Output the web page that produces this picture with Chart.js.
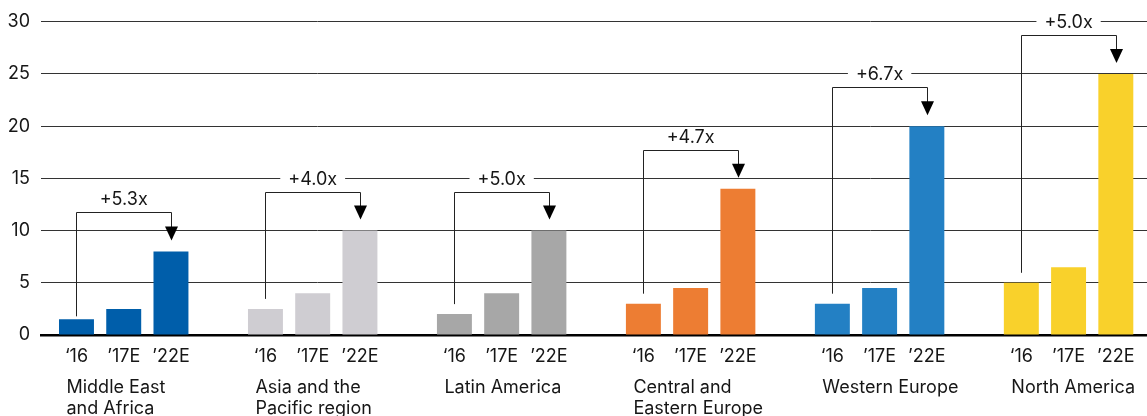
<!DOCTYPE html>
<html>
<head>
<meta charset="utf-8">
<script src="https://cdn.jsdelivr.net/npm/chart.js@4/dist/chart.umd.min.js"></script>
<style>
  html, body { margin: 0; padding: 0; background: #fff; overflow: hidden; }
  #wrap { width: 1147px; height: 416px; position: relative; }
</style>
</head>
<body>
<div id="wrap"><canvas id="c"></canvas></div>
<script>
// Region names (one entry per line of the label)
const regions = [
  ['Middle East', 'and Africa'],
  ['Asia and the', 'Pacific region'],
  ['Latin America'],
  ['Central and', 'Eastern Europe'],
  ['Western Europe'],
  ['North America']
];
// Year labels under each bar
const years = ['\u201816', '\u201917E', '\u201922E'];

// Values per region: '16, '17E, '22E
const middleEastAfrica     = [1.5, 2.5, 8];
const asiaPacific          = [2.5, 4, 10];
const latinAmerica         = [2, 4, 10];
const centralEasternEurope = [3, 4.5, 14];
const westernEurope        = [3, 4.5, 20];
const northAmerica         = [5, 6.5, 25];

// Growth multiple from '16 to '22E
const growth = ['+5.3x', '+4.0x', '+5.0x', '+4.7x', '+6.7x', '+5.0x'];

// Y-axis tick range
const yMin = 0, yMax = 30, yStep = 5;

// ---- styling ----
const regionColors = ['#005EAA', '#CFCDD2', '#A7A7A7', '#ED7D33', '#2380C4', '#F9D12B'];
const FONT = 'Inter, "Liberation Sans", Arial, sans-serif';
const TEXT = '#161616';
const SLOT = 4;                      // 3 bars + 1 empty slot per region
const bracketGap = [3, 10, 10, 10, 10, 10];

const series = [middleEastAfrica, asiaPacific, latinAmerica, centralEasternEurope, westernEurope, northAmerica];
const points = [], colors = [];
series.forEach((vals, g) => vals.forEach((v, j) => {
  points.push({ x: g * SLOT + j, y: v });
  colors.push(regionColors[g]);
}));

const annotate = {
  id: 'annotate',
  afterDatasetsDraw(chart) {
    const { ctx, scales: { x, y } } = chart;
    ctx.save();
    series.forEach((vals, g) => {
      const x0 = x.getPixelForValue(g * SLOT);
      const x2 = x.getPixelForValue(g * SLOT + 2);
      const top22 = y.getPixelForValue(vals[2]);
      const level = Math.round(top22 - 39) + 0.5;
      const bottom = y.getPixelForValue(vals[0]) - bracketGap[g];
      const tip = top22 - 11;
      const xa = Math.round(x0) + 0.5, xb = Math.round(x2) + 0.5;
      ctx.strokeStyle = '#222';
      ctx.lineWidth = 1;
      ctx.beginPath();
      ctx.moveTo(xa, bottom);
      ctx.lineTo(xa, level);
      ctx.lineTo(xb, level);
      ctx.lineTo(xb, tip - 12);
      ctx.stroke();
      ctx.fillStyle = '#000';
      ctx.beginPath();
      ctx.moveTo(xb - 6.5, tip - 14);
      ctx.lineTo(xb + 6.5, tip - 14);
      ctx.lineTo(xb, tip);
      ctx.closePath();
      ctx.fill();

      ctx.font = '18px ' + FONT;
      const w = ctx.measureText(growth[g]).width;
      const cx = (x0 + x2) / 2, cy = level - 12.5;
      ctx.fillStyle = '#fff';
      ctx.fillRect(cx - w / 2 - 8, cy - 10, w + 16, 20);
      ctx.fillStyle = TEXT;
      ctx.textAlign = 'center';
      ctx.textBaseline = 'middle';
      ctx.fillText(growth[g], cx, cy);
    });
    ctx.restore();
  },
  afterDraw(chart) {
    const { ctx, chartArea, scales: { x } } = chart;
    ctx.save();
    ctx.font = '18px ' + FONT;
    ctx.fillStyle = TEXT;
    ctx.textAlign = 'left';
    ctx.textBaseline = 'alphabetic';
    regions.forEach((lines, g) => {
      const lx = x.getPixelForValue(g * SLOT) - 10;
      lines.forEach((t, k) => ctx.fillText(t, lx, chartArea.bottom + 58 + k * 21));
    });
    ctx.restore();
  }
};

new Chart(document.getElementById('c'), {
  type: 'bar',
  data: {
    datasets: [{
      data: points,
      backgroundColor: colors,
      borderWidth: 0,
      barPercentage: 0.74,
      categoryPercentage: 1
    }]
  },
  options: {
    responsive: true,
    maintainAspectRatio: false,
    animation: false,
    events: [],
    layout: { padding: { top: 19.5, right: 0, bottom: 0, left: 0 } },
    plugins: { legend: { display: false }, tooltip: { enabled: false } },
    scales: {
      x: {
        type: 'linear',
        min: -0.751,
        max: 22.66,
        offset: false,
        z: 1,
        grid: { display: false, offset: false },
        border: { display: true, color: '#000', width: 2.5 },
        afterFit(s) { s.height = 81; },
        ticks: {
          stepSize: 1,
          includeBounds: false,
          autoSkip: false,
          maxRotation: 0,
          padding: 3,
          color: TEXT,
          font: { family: FONT, size: 18 },
          callback(v) {
            const i = Math.round(v);
            if (Math.abs(v - i) > 1e-6 || i < 0) return '';
            const j = i % SLOT;
            return j < years.length ? years[j] : '';
          }
        }
      },
      y: {
        min: yMin,
        max: yMax,
        afterFit(s) { s.width = 41; },
        grid: { color: '#333', lineWidth: 1, drawTicks: false },
        border: { display: false },
        ticks: {
          stepSize: yStep,
          padding: 11,
          color: TEXT,
          font: { family: FONT, size: 18 }
        }
      }
    }
  },
  plugins: [annotate]
});
</script>
</body>
</html>
